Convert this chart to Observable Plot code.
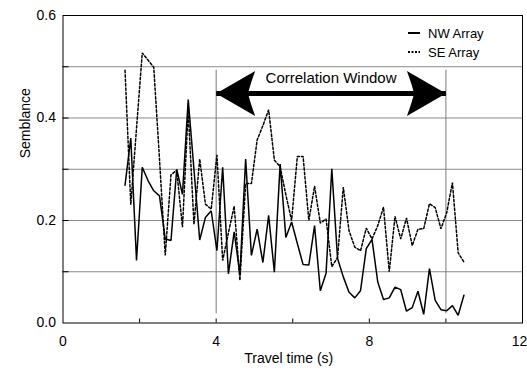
<!DOCTYPE html>
<html><head><meta charset="utf-8">
<script src="https://cdn.jsdelivr.net/npm/d3@7"></script>
<script src="https://cdn.jsdelivr.net/npm/@observablehq/plot@0.6"></script>
<style>
html,body{margin:0;padding:0;background:#fff;}
#wrap{position:relative;width:527px;height:372px;font-family:"Liberation Sans",Arial,sans-serif;}
.leg{position:absolute;left:406px;font-size:13px;color:#000;display:flex;align-items:center;height:16px;}
.leg svg{margin-right:6px;}
</style></head><body><div id="wrap"></div>
<script>
// Travel time (s), sampled every 0.15 s
const time = [1.62,1.77,1.92,2.07,2.22,2.37,2.52,2.67,2.82,2.97,
  3.12,3.27,3.42,3.57,3.72,3.87,4.02,4.17,4.32,4.47,
  4.62,4.77,4.92,5.07,5.22,5.37,5.52,5.67,5.82,5.97,
  6.12,6.27,6.42,6.57,6.72,6.87,7.02,7.17,7.32,7.47,
  7.62,7.77,7.92,8.07,8.22,8.37,8.52,8.67,8.82,8.97,
  9.12,9.27,9.42,9.57,9.72,9.87,10.02,10.17,10.32,10.47];
const nwArray = [0.269,0.361,0.122,0.304,0.278,0.258,0.248,0.164,0.161,0.300,
  0.251,0.436,0.300,0.162,0.206,0.219,0.141,0.304,0.096,0.178,
  0.095,0.320,0.132,0.183,0.118,0.210,0.099,0.310,0.167,0.197,
  0.155,0.114,0.113,0.190,0.063,0.097,0.301,0.126,0.090,0.060,
  0.049,0.063,0.145,0.163,0.080,0.046,0.049,0.070,0.065,0.023,
  0.030,0.062,0.017,0.106,0.044,0.026,0.024,0.034,0.015,0.054];
const seArray = [0.493,0.231,0.380,0.527,0.513,0.499,0.320,0.132,0.289,0.298,
  0.187,0.415,0.192,0.320,0.232,0.222,0.328,0.122,0.176,0.228,
  0.083,0.272,0.272,0.357,0.385,0.416,0.318,0.305,0.250,0.200,
  0.325,0.325,0.200,0.267,0.195,0.203,0.110,0.128,0.265,0.180,
  0.148,0.141,0.185,0.164,0.190,0.226,0.100,0.208,0.164,0.205,
  0.151,0.183,0.184,0.233,0.225,0.184,0.215,0.274,0.137,0.119];
const seriesNames = ["NW Array", "SE Array"];
const xTickLabels = [0, 4, 8];
const xTickLabelLast = [12];
const xTicks = [2, 4, 6, 8, 10];
const yTickLabels = [0, 0.2, 0.4, 0.6];
const yTicks = [0.1, 0.2, 0.3, 0.4, 0.5];
const gridY = [0.1, 0.2, 0.3, 0.4, 0.5];
const windowBounds = [4, 10];
const windowLineSpan = [0.018, 0.493];
const arrowLevel = 0.448;
const windowLabel = "Correlation Window";
const windowLabelLevel = 0.477;
const xLabel = "Travel time (s)";
const yLabel = "Semblance";

const nwData = time.map((t, i) => ({t, v: nwArray[i]}));
const seData = time.map((t, i) => ({t, v: seArray[i]}));

// stealth arrow head, tip at origin pointing up
const stealth = {
  draw(ctx) {
    ctx.moveTo(0, 0);
    ctx.lineTo(22.5, 39);
    ctx.quadraticCurveTo(6, 33, 0, 32);
    ctx.quadraticCurveTo(-6, 33, -22.5, 39);
    ctx.closePath();
  }
};
const heads = [{x: windowBounds[0], r: -90}, {x: windowBounds[1], r: 90}];
const seDash = "2.4,2";

const chart = Plot.plot({
  width: 527,
  height: 372,
  marginLeft: 62.5,
  marginRight: 5,
  marginTop: 15,
  marginBottom: 49.5,
  style: {fontFamily: "'Liberation Sans', Arial, sans-serif", fontSize: "14px", background: "#fff", color: "#000"},
  x: {domain: [0, 12], axis: null, label: null},
  y: {domain: [0, 0.6], axis: null, label: null},
  marks: [
    Plot.ruleY(gridY, {stroke: "#8a8a8a", strokeWidth: 1}),
    Plot.ruleX(windowBounds, {y1: windowLineSpan[0], y2: windowLineSpan[1], stroke: "#7a7a7a", strokeWidth: 1}),
    Plot.axisY(yTicks, {anchor: "left", tickSize: -6, tickFormat: () => "", stroke: "#000", label: null}),
    Plot.axisY(yTickLabels, {anchor: "left", tickSize: 0, tickPadding: 7, tickFormat: d3.format(".1f"), fontSize: 14, label: null}),
    Plot.axisX(xTicks, {anchor: "bottom", tickSize: -4, tickFormat: () => "", stroke: "#000", label: null}),
    Plot.axisX(xTickLabels, {anchor: "bottom", tickSize: 0, tickPadding: 13, tickFormat: d3.format("d"), fontSize: 14, label: null}),
    Plot.axisX(xTickLabelLast, {anchor: "bottom", tickSize: 0, tickPadding: 13, tickFormat: d3.format("d"), fontSize: 14, label: null, dx: -3}),
    Plot.text([xLabel], {frameAnchor: "bottom", dy: 40, dx: -4, fontSize: 14}),
    Plot.text([yLabel], {frameAnchor: "left", dx: -37.5, dy: -11, rotate: -90, fontSize: 14}),
    Plot.line(seData, {x: "t", y: "v", stroke: "#000", strokeWidth: 1.5, strokeDasharray: seDash, strokeLinejoin: "miter"}),
    Plot.line(nwData, {x: "t", y: "v", stroke: "#000", strokeWidth: 1.5, strokeLinejoin: "miter"}),
    Plot.link([{x1: windowBounds[0], x2: windowBounds[1]}], {x1: "x1", x2: "x2", y1: () => arrowLevel, y2: () => arrowLevel, stroke: "#000", strokeWidth: 5}),
    Plot.dot(heads, {x: "x", y: () => arrowLevel, symbol: stealth, rotate: "r", fill: "#000", stroke: null, r: 10}),
    Plot.text([{x: (windowBounds[0] + windowBounds[1]) / 2, label: windowLabel}], {x: "x", y: () => windowLabelLevel, text: "label", fontSize: 15}),
    Plot.frame({stroke: "#000", strokeWidth: 1})
  ]
});
const wrap = document.getElementById("wrap");
wrap.appendChild(chart);

const dashes = ["", "2,1.5"];
const legTops = [25, 44];
seriesNames.forEach((name, i) => {
  const d = document.createElement("div");
  d.className = "leg";
  d.style.top = legTops[i] + "px";
  d.innerHTML = `<svg width="16" height="6"><line x1="2" x2="14" y1="3" y2="3" stroke="#000" stroke-width="2" ${dashes[i] ? `stroke-dasharray="${dashes[i]}"` : ""}/></svg><span>${name}</span>`;
  wrap.appendChild(d);
});
</script>
</body></html>
